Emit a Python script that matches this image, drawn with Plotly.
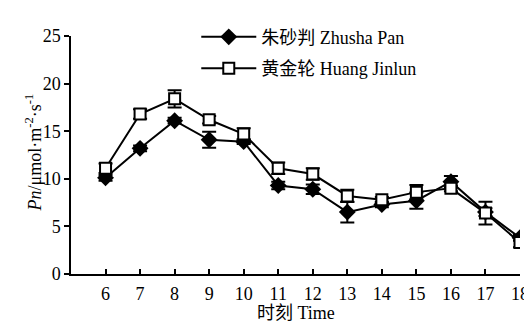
import plotly.graph_objects as go

hours = [6, 7, 8, 9, 10, 11, 12, 13, 14, 15, 16, 17, 18]
tick_labels = [str(h) for h in hours]
y_ticks = [0, 5, 10, 15, 20, 25]

zhusha_name = "朱砂判 Zhusha Pan"
zhusha = [10.1, 13.2, 16.1, 14.1, 13.9, 9.3, 8.9, 6.5, 7.3, 7.7, 9.7, 6.5, 3.8]
zhusha_err = [0.3, 0.3, 0.3, 0.85, 0.25, 0.4, 0.5, 1.1, 0.3, 0.85, 0.6, 0.4, 0.3]

huang_name = "黄金轮 Huang Jinlun"
huang = [11.1, 16.8, 18.4, 16.2, 14.7, 11.1, 10.5, 8.2, 7.8, 8.6, 9.0, 6.4, 3.3]
huang_err = [0.5, 0.5, 0.9, 0.4, 0.6, 0.6, 0.6, 0.65, 0.3, 0.75, 0.3, 1.2, 0.5]

FONT = "Liberation Serif, Times New Roman, Noto Sans CJK SC, serif"

fig = go.Figure()
fig.add_trace(go.Scatter(
    x=hours, y=zhusha, name=zhusha_name, mode="lines+markers",
    line=dict(color="black", width=2),
    marker=dict(symbol="diamond", size=13, color="black"),
    error_y=dict(type="data", array=zhusha_err, visible=True, color="black", thickness=2, width=7),
    legendgroup="a",
))
fig.add_trace(go.Scatter(
    x=hours, y=huang, name=huang_name, mode="lines+markers",
    line=dict(color="black", width=2),
    marker=dict(symbol="square", size=11, color="white", line=dict(color="black", width=2)),
    error_y=dict(type="data", array=huang_err, visible=True, color="black", thickness=2, width=7),
    legendgroup="b",
))

fig.update_layout(
    width=532, height=324,
    margin=dict(l=63, r=11, t=18, b=58),
    paper_bgcolor="white", plot_bgcolor="white",
    font=dict(family=FONT, size=18, color="black"),
    showlegend=True,
    legend=dict(
        x=0.279, y=1.073, xanchor="left", yanchor="top",
        bgcolor="rgba(0,0,0,0)", font=dict(size=18, family=FONT),
        traceorder="grouped", tracegroupgap=5, itemwidth=55,
    ),
    xaxis=dict(
        range=[5, 18], tickmode="array", tickvals=hours, ticktext=tick_labels,
        showgrid=False, zeroline=False, showline=True, linecolor="black", linewidth=1.5,
        ticks="inside", ticklen=5, tickwidth=1.5, tickcolor="black",
        tickfont=dict(size=18), ticklabelstandoff=3,
    ),
    yaxis=dict(
        range=[0, 25], tickvals=y_ticks,
        showgrid=False, zeroline=False, showline=True, linecolor="black", linewidth=1.5,
        ticks="outside", ticklen=5, tickwidth=1.5, tickcolor="black",
        tickfont=dict(size=18),
    ),
    annotations=[
        dict(text="时刻 Time", xref="paper", yref="paper", x=0.5, y=-0.165,
             xanchor="center", yanchor="middle", showarrow=False, font=dict(size=18)),
        dict(text="<i>Pn</i>/μmol·m<sup>-2</sup>·s<sup>-1</sup>", xref="paper", yref="paper",
             x=-0.0828, y=0.51, xanchor="center", yanchor="middle", textangle=-90,
             showarrow=False, font=dict(size=18)),
    ],
)

fig.write_html("out.html")
